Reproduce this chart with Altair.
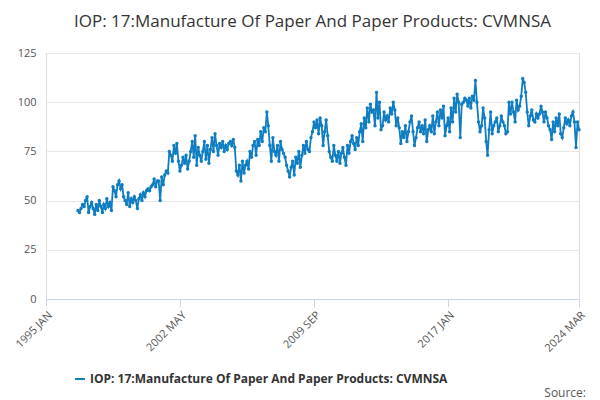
import altair as alt
import pandas as pd

series_name = "IOP: 17:Manufacture Of Paper And Paper Products: CVMNSA"
start = "1996-10-01"
values = [
    45, 44, 46,
    48, 47, 50, 52, 44, 47, 49, 46, 43, 48, 45, 50,
    47, 44, 48, 46, 51, 47, 49, 45, 57, 55, 52, 58,
    60, 56, 58, 52, 50, 48, 54, 47, 51, 49, 52, 50,
    46, 51, 53, 50, 54, 52, 55, 56, 55, 57, 58, 61,
    57, 60, 60, 50, 62, 58, 63, 65, 64, 75, 73, 70,
    78, 74, 79, 70, 65, 68, 72, 69, 73, 66, 70, 75,
    80, 72, 83, 68, 77, 73, 70, 75, 80, 71, 78, 69,
    76, 82, 75, 84, 78, 73, 79, 77, 80, 75, 78, 76,
    79, 80, 78, 81, 77, 65, 63, 68, 60, 70, 64, 68,
    70, 66, 75, 72, 78, 80, 73, 81, 78, 85, 80, 87,
    85, 95, 88, 78, 70, 82, 75, 73, 78, 70, 80, 76,
    74, 72, 68, 65, 62, 67, 70, 63, 72, 69, 75, 67,
    73, 78, 74, 80, 76, 75, 82, 85, 90, 87, 91, 84,
    92, 88, 78, 85, 91, 83, 75, 72, 70, 78, 73, 70,
    75, 69, 74, 77, 72, 68, 78, 74, 80, 83, 79, 76,
    82, 78, 85, 89, 80, 92, 87, 97, 90, 99, 95, 96,
    88, 105, 92, 100, 86, 88, 95, 91, 93, 90, 97, 94,
    100, 96, 88, 92, 87, 79, 85, 82, 88, 80, 85, 90,
    93, 85, 78, 82, 87, 90, 85, 88, 84, 91, 80, 86,
    88, 85, 93, 84, 90, 95, 88, 96, 92, 98, 83, 88,
    92, 85, 97, 90, 102, 95, 104, 100, 82, 99, 100, 102,
    101, 98, 102, 97, 103, 101, 111, 100, 90, 85, 88, 97,
    92, 80, 73, 86, 95, 84, 88, 90, 92, 85, 88, 93,
    90, 88, 84, 85, 100, 94, 100, 95, 90, 101, 96, 98,
    103, 112, 110, 105, 95, 88, 93, 96, 91, 90, 94, 92,
    94, 98, 95, 90, 95, 92, 88, 86, 81, 90, 85, 92,
    88, 94, 84, 82, 87, 92, 89, 91, 88, 93, 95, 90,
    77, 90, 86,
]
tick_dates = ["1995-01-01", "2002-05-01", "2009-09-01", "2017-01-01", "2024-03-01"]

df = pd.DataFrame({
    "date": pd.date_range(start, periods=len(values), freq="MS"),
    "value": values,
    "series": series_name,
})

blue = "#0f7dc2"
base = alt.Chart(df)
line = base.mark_line(point=alt.OverlayMarkDef(size=12, filled=True), strokeWidth=1.8).encode(
    x=alt.X("date:T", title=None,
            scale=alt.Scale(domain=[tick_dates[0], tick_dates[-1]]),
            axis=alt.Axis(values=[pd.Timestamp(d).isoformat() for d in tick_dates],
                          labelExpr="upper(timeFormat(datum.value, '%Y %b'))",
                          labelAngle=-45, labelAlign="right", labelBaseline="top",
                          grid=False, labelColor="#555", labelFontSize=11,
                          domainColor="#ccd6eb", tickColor="#ccd6eb", tickSize=8)),
    y=alt.Y("value:Q", title=None,
            scale=alt.Scale(domain=[0, 125]),
            axis=alt.Axis(values=[0, 25, 50, 75, 100, 125], domain=False, ticks=False,
                          gridColor="#e6e6e6", labelColor="#555", labelFontSize=11, labelPadding=10)),
    color=alt.Color("series:N", scale=alt.Scale(range=[blue]),
                    legend=alt.Legend(title=None, orient="none", legendX=28, legendY=320,
                                      labelFontSize=12,
                                      labelFontWeight="bold", labelColor="#333",
                                      symbolType="stroke", symbolStrokeWidth=2, labelLimit=500)),
)

source = alt.Chart(pd.DataFrame({"t": ["Source:"]})).mark_text(
    align="right", fontSize=12, color="#555"
).encode(text="t:N", x=alt.value(540), y=alt.value(340))

chart = alt.layer(line, source).properties(
    width=533, height=246,
    title=alt.TitleParams("IOP: 17:Manufacture Of Paper And Paper Products: CVMNSA",
                          fontSize=17, fontWeight="normal", color="#333", anchor="middle",
                          offset=16),
).configure_view(stroke=None).configure(font="Open Sans")

chart.save("out.html", embed_options={"renderer": "svg", "actions": False})
